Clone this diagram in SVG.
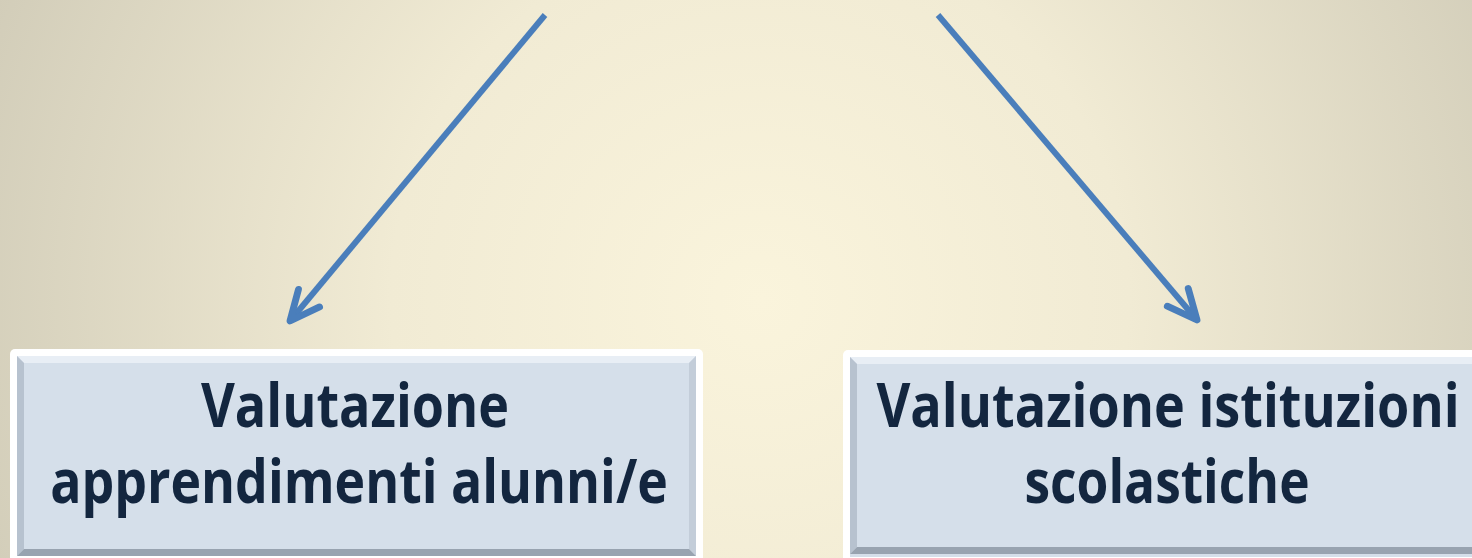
<svg xmlns="http://www.w3.org/2000/svg" width="1472" height="558" viewBox="0 0 1472 558">
<defs>
<radialGradient id="bg" cx="760" cy="300" r="820" gradientUnits="userSpaceOnUse">
<stop offset="0" stop-color="#faf4dc"/>
<stop offset="0.45" stop-color="#f1ebd4"/>
<stop offset="1" stop-color="#d2cdb9"/>
</radialGradient>
<marker id="arr" markerUnits="userSpaceOnUse" markerWidth="40" markerHeight="40" refX="0" refY="0" viewBox="-30 -15 35 30" orient="auto" overflow="visible">
<path d="M -26 -12 L 0 0 L -26 12" fill="none" stroke="#4a7ebb" stroke-width="6" stroke-linecap="round" stroke-linejoin="round"/>
</marker>
<style>
.frame{fill:#ffffff;}
.face{fill:#d5dfea;}
.bt{fill:#e8eef5;}
.bl{fill:#b7c2cf;}
.bb{fill:#98a3b0;}
.br{fill:#c3cdd9;}
.lbl{font-family:"Open Sans","Liberation Sans",sans-serif;font-weight:bold;font-size:61px;fill:#13263f;}
.conn{stroke:#4a7ebb;stroke-width:6;fill:none;marker-end:url(#arr);}
</style>
</defs>
<rect x="0" y="0" width="1472" height="558" fill="url(#bg)"/>
<g id="connectors">
<line class="conn" x1="545" y1="15" x2="290" y2="321"/>
<line class="conn" x1="938" y1="15" x2="1197" y2="320"/>
</g>
<g id="node-apprendimenti">
<rect class="frame" x="10" y="349" width="693" height="220" rx="5"/>
<rect class="face" x="17" y="356" width="679" height="200"/>
<polygon class="bt" points="17,356 696,356 689,363 24,363"/>
<polygon class="bl" points="17,356 24,363 24,549 17,556"/>
<polygon class="br" points="696,356 696,556 689,549 689,363"/>
<polygon class="bb" points="17,556 24,549 689,549 696,556"/>
<text class="lbl" transform="translate(355,427) scale(0.72,1)" x="0" y="0" text-anchor="middle" textLength="428" lengthAdjust="spacingAndGlyphs">Valutazione</text>
<text class="lbl" transform="translate(359,503) scale(0.72,1)" x="0" y="0" text-anchor="middle" textLength="858" lengthAdjust="spacingAndGlyphs">apprendimenti alunni/e</text>
</g>
<g id="node-istituzioni">
<rect class="frame" x="843" y="350" width="660" height="220" rx="5"/>
<rect class="face" x="850" y="357" width="640" height="200"/>
<polygon class="bt" points="850,357 1490,357 1483,364 857,364"/>
<polygon class="bl" points="850,357 857,364 857,547 850,554"/>
<polygon class="bb" points="850,554 857,547 1490,547 1490,554"/>
<rect class="face" x="857" y="364" width="633" height="183"/>
<text class="lbl" transform="translate(1168,427) scale(0.72,1)" x="0" y="0" text-anchor="middle" textLength="810" lengthAdjust="spacingAndGlyphs">Valutazione istituzioni</text>
<text class="lbl" transform="translate(1167,503) scale(0.72,1)" x="0" y="0" text-anchor="middle" textLength="396" lengthAdjust="spacingAndGlyphs">scolastiche</text>
</g>
</svg>
